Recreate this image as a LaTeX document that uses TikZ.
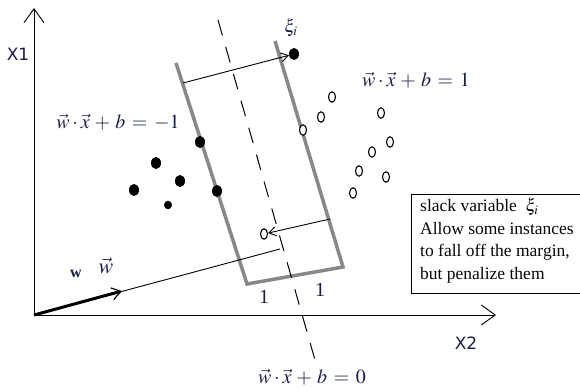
\documentclass[tikz,border=0pt]{standalone}
\usepackage{mathptmx}
\usepackage{fontspec}
\setmainfont{Liberation Serif}
\newfontfamily\axfont{DejaVu Sans}
\usetikzlibrary{arrows.meta,shapes.geometric}
\definecolor{ink}{RGB}{25,30,70}
\definecolor{margingray}{RGB}{136,136,136}
\begin{document}
\begin{tikzpicture}[x=1pt,y=-1pt,
  marginline/.style={draw=margingray,line width=3.5pt,line join=miter},
  axisline/.style={line width=1pt,-{Straight Barb[length=14pt,width=20pt,line width=0.9pt]}},
  thinarrow/.style={line width=0.9pt,-{Straight Barb[length=7pt,width=9pt,line width=0.9pt]}},
  hyper/.style={line width=1pt,dash pattern=on 16pt off 12pt},
  fdot/.style={ellipse,fill=black,inner sep=0pt,minimum width=10pt,minimum height=12pt},
  odot/.style={ellipse,draw=black,fill=white,line width=1.1pt,inner sep=0pt,minimum width=7pt,minimum height=10.5pt},
  eqlabel/.style={text=ink,font=\fontsize{20}{24}\selectfont,inner sep=0pt},
  axlabel/.style={text=ink,font=\axfont\fontsize{17}{20}\selectfont,inner sep=0pt},
  notebox/.style={line width=1pt}]
\useasboundingbox (0,0) rectangle (580,390);
% coordinates
\coordinate (O) at (34,315);
\coordinate (Ytop) at (34,8);
\coordinate (Xend) at (496,315);
\coordinate (L1) at (176,63);
\coordinate (C1) at (247,284);
\coordinate (C2) at (343,267);
\coordinate (R1) at (275,41);
\coordinate (H1) at (218,20);
\coordinate (H2) at (315,360);
\coordinate (Wtip) at (122,291);
\coordinate (Wend) at (280,249);
\coordinate (A1) at (183,83);
\coordinate (A2) at (330,219);
\coordinate (B1) at (580,194);
\coordinate (B2) at (411,194);
\coordinate (B3) at (411,293);
\coordinate (B4) at (580,293);
% axes
\draw[axisline] (O) -- (Ytop);
\draw[axisline] (O) -- (Xend);
% margins
\draw[marginline] (L1) -- (C1) -- (C2) -- (R1);
% hyperplane
\draw[hyper] (H1) -- (H2);
% w line
\draw[line width=0.9pt] (O) -- (Wend);
\draw[line width=3pt,-{Straight Barb[length=9pt,width=12pt,line width=1.2pt]}] (O) -- (Wtip);
% filled dots
\node[fdot] (f1) at (200,142) {};
\node[fdot] (f2) at (156,163) {};
\node[fdot] (f3) at (180,181) {};
\node[fdot] (f4) at (134,190) {};
\node[fdot] (f5) at (217,191) {};
\node[fdot,minimum width=8pt,minimum height=8.5pt] (f6) at (168,205) {};
\node[fdot] (f7) at (294,54) {};
% open dots
\node[odot] (o1) at (332,97) {};
\node[odot] (o2) at (321,117) {};
\node[odot] (o3) at (303,130) {};
\node[odot] (o4) at (381,113) {};
\node[odot] (o5) at (390,142) {};
\node[odot] (o6) at (372,152) {};
\node[odot] (o7) at (359,171) {};
\node[odot] (o8) at (386,177) {};
\node[odot] (o9) at (353,193) {};
\node[odot] (o10) at (264,234) {};
% slack arrows
\draw[thinarrow] (A1) -- (f7);
\draw[thinarrow] (A2) -- (o10);
% labels
\node[axlabel] (x1) at (18,54) {X1};
\node[axlabel] (x2) at (466,343) {X2};
\node[eqlabel] (eqm) at (118,122) {$\vec w\cdot\vec x\mathbin{\,+\,}b\mathrel{\,=\,}-1$};
\node[eqlabel] (eqp) at (416,80) {$\vec w\cdot\vec x\mathbin{\,+\,}b\mathrel{\,=\,}1$};
\node[eqlabel] (eqz) at (312,377) {$\vec w\cdot\vec x\mathbin{\,+\,}b\mathrel{\,=\,}0$};
\node[eqlabel,font=\fontsize{18}{20}\selectfont] (xi) at (291,28) {$\xi_i$};
\node[eqlabel,font=\bfseries\fontsize{16}{18}\selectfont] (wl) at (76,274) {w};
\node[eqlabel,font=\fontsize{22}{24}\selectfont] (wv) at (106,266) {$\vec w$};
\node[eqlabel] (one1) at (264,297) {1};
\node[eqlabel] (one2) at (320,290) {1};
% note box (open on the right, where the picture ends)
\draw[notebox] (B1) -- (B2) -- (B3) -- (B4);
\node[anchor=north west,align=left,inner xsep=0pt,inner ysep=0pt,
      font=\fontsize{17.5}{22.5}\selectfont,text=black!85!ink] (box) at (420,198)
  {slack variable \ $\xi_i$\\Allow some instances\\to fall off the margin,\\but penalize them};
\end{tikzpicture}
\end{document}
